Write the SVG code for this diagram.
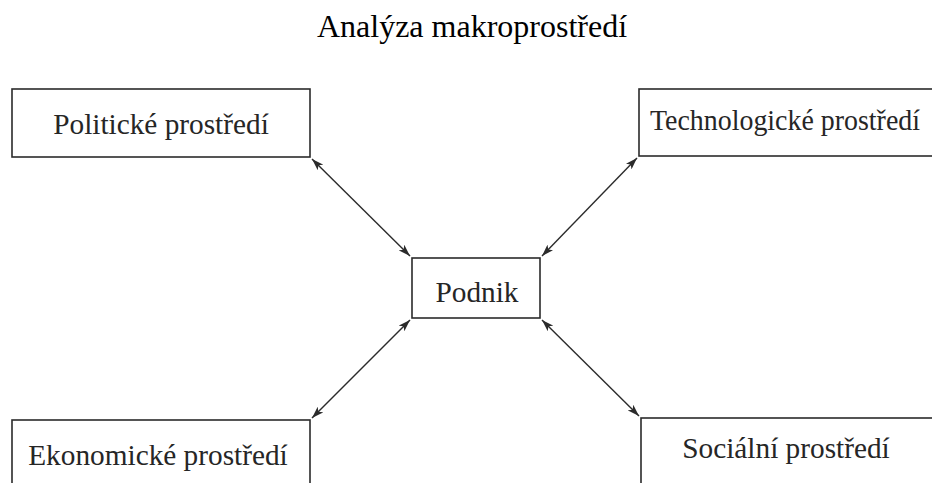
<svg xmlns="http://www.w3.org/2000/svg" width="932" height="483" viewBox="0 0 932 483">
  <style>
    .box { fill: #ffffff; stroke: #2b2b2b; stroke-width: 1.6; }
    .label { font-family: "Liberation Serif", "Times New Roman", serif; font-size: 29.3px; fill: #262626; }
    .title { font-family: "Liberation Serif", "Times New Roman", serif; font-size: 32px; fill: #000000; text-anchor: middle; }
    .link { stroke: #2b2b2b; stroke-width: 1.4; fill: none; marker-start: url(#head); marker-end: url(#head); }
  </style>
  <defs>
    <marker id="head" viewBox="0 0 12 8" refX="12" refY="4" markerWidth="12" markerHeight="8" markerUnits="userSpaceOnUse" orient="auto-start-reverse">
      <path d="M0,0 L12,4 L0,8 L3,4 Z" fill="#2b2b2b"/>
    </marker>
  </defs>

  <rect width="932" height="483" fill="#ffffff"/>

  <text class="title" x="472" y="37">Analýza makroprostředí</text>

  <!-- two-way links between the firm and its four surroundings -->
  <g id="connectors">
    <line class="link" x1="312" y1="159" x2="410" y2="256"/>
    <line class="link" x1="637" y1="158" x2="542" y2="256"/>
    <line class="link" x1="410" y1="320" x2="312" y2="418"/>
    <line class="link" x1="542" y1="320" x2="639" y2="416"/>
  </g>

  <g id="politicke">
    <rect class="box" x="12" y="89" width="298" height="68"/>
    <text class="label" x="161" y="134" text-anchor="middle">Politické prostředí</text>
  </g>

  <g id="technologicke">
    <rect class="box" x="639" y="89" width="400" height="67"/>
    <text class="label" x="650" y="130" textLength="270" lengthAdjust="spacingAndGlyphs">Technologické prostředí</text>
  </g>

  <g id="podnik">
    <rect class="box" x="412" y="258" width="128" height="60"/>
    <text class="label" x="477" y="302" text-anchor="middle">Podnik</text>
  </g>

  <g id="ekonomicke">
    <rect class="box" x="12" y="420" width="298" height="100"/>
    <text class="label" x="158" y="465" text-anchor="middle">Ekonomické prostředí</text>
  </g>

  <g id="socialni">
    <rect class="box" x="641" y="418" width="400" height="100"/>
    <text class="label" x="786" y="458" text-anchor="middle">Sociální prostředí</text>
  </g>
</svg>
